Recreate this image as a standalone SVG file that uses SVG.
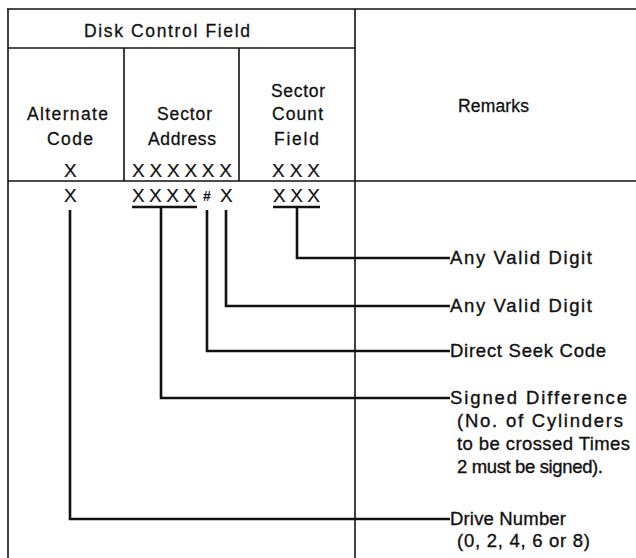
<svg xmlns="http://www.w3.org/2000/svg" width="636" height="558" viewBox="0 0 636 558">
<style>
.t{font-family:"Liberation Sans","DejaVu Sans",sans-serif;font-size:17.5px;fill:#111;stroke:#111;stroke-width:0.3}
.l{font-family:"Liberation Sans","DejaVu Sans",sans-serif;font-size:18.5px;fill:#111;stroke:#111;stroke-width:0.35}
.x{font-family:"Liberation Sans","DejaVu Sans",sans-serif;font-size:19px;fill:#111;stroke:#111;stroke-width:0.2}
.h{font-family:"Liberation Sans","DejaVu Sans",sans-serif;font-size:14px;font-weight:bold;fill:#111}
.grid{stroke:#111;stroke-width:1.6;fill:none}
.c{stroke:#111;stroke-width:2.6;fill:none;stroke-linejoin:miter}
</style>
<rect width="636" height="558" fill="#fff"/>
<g id="table" class="grid">
<line x1="7" y1="9" x2="636" y2="9"/>
<line x1="8" y1="9" x2="8" y2="558"/>
<line x1="8" y1="48" x2="355" y2="48"/>
<line x1="124" y1="48" x2="124" y2="181"/>
<line x1="239" y1="48" x2="239" y2="181"/>
<line x1="355" y1="9" x2="355" y2="558"/>
<line x1="8" y1="181" x2="636" y2="181"/>
</g>
<g id="headers">
<text class="t" x="84" y="37" textLength="166" lengthAdjust="spacing">Disk Control Field</text>
<text class="t" x="27" y="120" textLength="81" lengthAdjust="spacing">Alternate</text>
<text class="t" x="47" y="145" textLength="46" lengthAdjust="spacing">Code</text>
<text class="t" x="157" y="120" textLength="55" lengthAdjust="spacing">Sector</text>
<text class="t" x="148" y="145" textLength="68" lengthAdjust="spacing">Address</text>
<text class="t" x="271" y="97" textLength="54" lengthAdjust="spacing">Sector</text>
<text class="t" x="272" y="120" textLength="51" lengthAdjust="spacing">Count</text>
<text class="t" x="274" y="145" textLength="45" lengthAdjust="spacing">Field</text>
<text class="t" x="458" y="112" textLength="71" lengthAdjust="spacing">Remarks</text>
</g>
<g id="format-row">
<text class="x" x="64" y="177">X</text>
<text class="x" x="132" y="177" textLength="100" lengthAdjust="spacing">XXXXXX</text>
<text class="x" x="272" y="177" textLength="48" lengthAdjust="spacing">XXX</text>
</g>
<g id="example-row">
<text class="x" x="64" y="202">X</text>
<text class="x" x="132" y="202" textLength="64" lengthAdjust="spacing">XXXX</text>
<text class="h" x="203" y="201">#</text>
<text class="x" x="220" y="202">X</text>
<text class="x" x="273" y="202" textLength="47" lengthAdjust="spacing">XXX</text>
</g>
<g id="connectors" class="c">
<line x1="273" y1="207" x2="320" y2="207"/>
<polyline points="297,207 297,258 450,258"/>
<polyline points="226,210 226,306 450,306"/>
<polyline points="207,210 207,351 450,351"/>
<line x1="132" y1="207" x2="197" y2="207"/>
<polyline points="161,207 161,398 450,398"/>
<polyline points="70,210 70,519 450,519"/>
</g>
<g id="remarks">
<text class="l" x="450" y="264" textLength="142" lengthAdjust="spacing">Any Valid Digit</text>
<text class="l" x="450" y="312" textLength="142" lengthAdjust="spacing">Any Valid Digit</text>
<text class="l" x="450" y="357" textLength="156" lengthAdjust="spacing">Direct Seek Code</text>
<text class="l" x="450" y="404" textLength="177" lengthAdjust="spacing">Signed Difference</text>
<text class="l" x="457" y="427" textLength="166" lengthAdjust="spacing">(No. of Cylinders</text>
<text class="l" x="457" y="450" textLength="173" lengthAdjust="spacing">to be crossed Times</text>
<text class="l" x="457" y="473" textLength="146" lengthAdjust="spacing">2 must be signed).</text>
<text class="l" x="450" y="525" textLength="116" lengthAdjust="spacing">Drive Number</text>
<text class="l" x="457" y="547" textLength="133" lengthAdjust="spacing">(0, 2, 4, 6 or 8)</text>
</g>
</svg>
